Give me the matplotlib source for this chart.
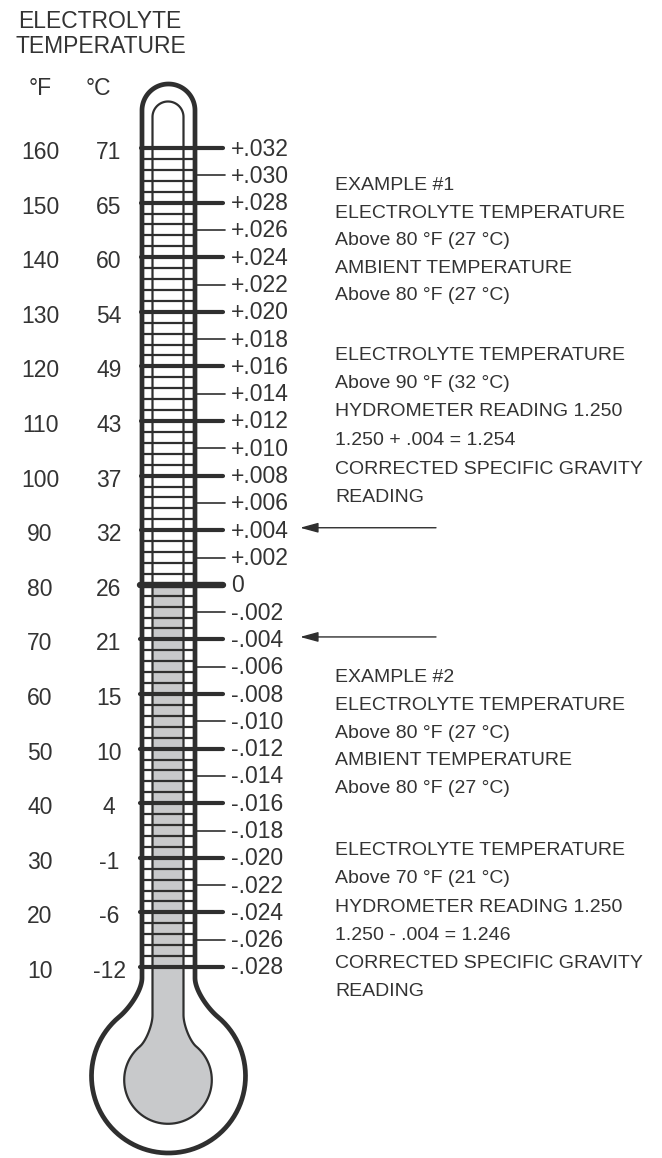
import numpy as np
import matplotlib
matplotlib.use("Agg")
import matplotlib.pyplot as plt
import matplotlib.transforms as mtransforms
from matplotlib import font_manager
from matplotlib.patches import Polygon, Rectangle

# ---- scale data ----
temps_f = [160, 150, 140, 130, 120, 110, 100, 90, 80, 70, 60, 50, 40, 30, 20, 10]
temps_c = [71, 65, 60, 54, 49, 43, 37, 32, 26, 21, 15, 10, 4, -1, -6, -12]
corrections = [0.032, 0.030, 0.028, 0.026, 0.024, 0.022, 0.020, 0.018, 0.016,
               0.014, 0.012, 0.010, 0.008, 0.006, 0.004, 0.002, 0.0,
               -0.002, -0.004, -0.006, -0.008, -0.010, -0.012, -0.014,
               -0.016, -0.018, -0.020, -0.022, -0.024, -0.026, -0.028]
correction_labels = ["+.032", "+.030", "+.028", "+.026", "+.024", "+.022", "+.020",
                     "+.018", "+.016", "+.014", "+.012", "+.010", "+.008", "+.006",
                     "+.004", "+.002", "0", "-.002", "-.004", "-.006", "-.008",
                     "-.010", "-.012", "-.014", "-.016", "-.018", "-.020", "-.022",
                     "-.024", "-.026", "-.028"]
grid_f = list(range(10, 161, 2))   # small graduations every 2 °F
fill_level_f = 80                  # electrolyte column top
arrow_corrections = [0.004, -0.004]

example_1a = ["EXAMPLE #1", "ELECTROLYTE TEMPERATURE", "Above 80 \u00b0F (27 \u00b0C)",
              "AMBIENT TEMPERATURE", "Above 80 \u00b0F (27 \u00b0C)"]
example_1b = ["ELECTROLYTE TEMPERATURE", "Above 90 \u00b0F (32 \u00b0C)",
              "HYDROMETER READING 1.250", "1.250 + .004 = 1.254",
              "CORRECTED SPECIFIC GRAVITY", "READING"]
example_2a = ["EXAMPLE #2", "ELECTROLYTE TEMPERATURE", "Above 80 \u00b0F (27 \u00b0C)",
              "AMBIENT TEMPERATURE", "Above 80 \u00b0F (27 \u00b0C)"]
example_2b = ["ELECTROLYTE TEMPERATURE", "Above 70 \u00b0F (21 \u00b0C)",
              "HYDROMETER READING 1.250", "1.250 - .004 = 1.246",
              "CORRECTED SPECIFIC GRAVITY", "READING"]


def corr_to_f(c):
    # .004 of specific gravity per 10 °F, zero at 80 °F
    return 80 + c / 0.0004


W, H = 662, 1158
INK = "#2f2f2f"
TXT = "#333333"
GRAY = "#c8c9cb"
PX_PER_F = (967 - 148) / 150.0

names = {f.name for f in font_manager.fontManager.ttflist}
if "Liberation Sans Narrow" in names:
    note_font, note_size = "Liberation Sans Narrow", 16.5
else:
    note_font, note_size = "Liberation Sans", 14
plt.rcParams["font.family"] = ["Liberation Sans", "DejaVu Sans"]

fig = plt.figure(figsize=(W / 100, H / 100), dpi=100)
ax = fig.add_axes([0, 0, 1, 1])
ax.set_xlim(0, W)
ax.set_ylim(10 - (H - 967) / PX_PER_F, 160 + 148 / PX_PER_F)
ax.axis("off")

# pixel space (y down) for the glass outline and notes
px = mtransforms.Affine2D().scale(1 / W, -1 / H).translate(0, 1) + fig.transFigure


def arc(cx, cy, r, a0, a1, n=80):
    t = np.radians(np.linspace(a0, a1, n))
    return np.column_stack([cx + r * np.cos(t), cy + r * np.sin(t)])


def bez(p0, p1, p2, p3, n=30):
    t = np.linspace(0, 1, n)[:, None]
    p0, p1, p2, p3 = map(np.asarray, (p0, p1, p2, p3))
    return (1 - t) ** 3 * p0 + 3 * (1 - t) ** 2 * t * p1 + 3 * (1 - t) * t ** 2 * p2 + t ** 3 * p3


def glass(cx, half, top_cy, neck_y, bulb_cy, r, ang, k1, k2):
    xl, xr = cx - half, cx + half
    a = np.radians(ang)
    jr = np.array([cx + r * np.cos(a), bulb_cy - r * np.sin(a)])
    jl = np.array([cx - r * np.cos(a), bulb_cy - r * np.sin(a)])
    tr = np.array([-np.sin(a), -np.cos(a)]) * -1  # travel dir at right junction
    tr = np.array([np.sin(a), np.cos(a)])
    pts = [arc(cx, top_cy, half, 180, 360)]
    pts.append([[xr, neck_y]])
    pts.append(bez((xr, neck_y), (xr, neck_y + k1), jr - k2 * tr, jr))
    pts.append(arc(cx, bulb_cy, r, -ang, 180 + ang))
    tl = np.array([-np.sin(a), np.cos(a)])
    pts.append(bez(jl, jl - k2 * tl, (xl, neck_y + k1), (xl, neck_y)))
    return np.vstack(pts)


outer = glass(168.5, 26.5, 110.5, 978, 1076, 77, 50, 12, 14)
inner = glass(168, 15.5, 117, 1015, 1080, 43.8, 50, 10, 8)

# electrolyte column (clipped below the 80 °F mark)
col = Polygon(inner, closed=True, transform=px, facecolor=GRAY, edgecolor="none", zorder=1)
ax.add_patch(col)
clip = Rectangle((0, ax.get_ylim()[0]), W, fill_level_f - ax.get_ylim()[0],
                 transform=ax.transData, visible=False)
ax.add_patch(clip)
col.set_clip_path(clip)

# 2 °F graduations across the glass
ax.hlines(grid_f, 141.5, 194.5, color=INK, lw=1.6, zorder=2)

ax.add_patch(Polygon(inner, closed=True, transform=px, fill=False, edgecolor=INK, lw=1.6, zorder=3))
ax.add_patch(Polygon(outer, closed=True, transform=px, fill=False, edgecolor=INK, lw=3.4,
                     joinstyle="round", zorder=4))

# correction ticks
lab_off = ax.transData + mtransforms.ScaledTranslation(0, -0.075, fig.dpi_scale_trans)
for c, lab in zip(corrections, correction_labels):
    f = corr_to_f(c)
    step = int(round(abs(c) / 0.002))
    if step == 0:
        ln = ax.hlines(f, 139.5, 223, color=INK, lw=4.6, zorder=5)
    elif step % 2 == 0:
        ln = ax.hlines(f, 141 if c > 0 else 139.5, 223, color=INK, lw=3.0, zorder=5)
    else:
        ln = ax.hlines(f, 194.5, 225, color=INK, lw=1.2, zorder=5)
    ln.set_capstyle("round")
    ax.text(231, f, lab, ha="left", va="baseline", fontsize=16.5, color=TXT,
            transform=lab_off)

# temperature scales
side_off = ax.transData + mtransforms.ScaledTranslation(0, -0.11, fig.dpi_scale_trans)
for tf, tc in zip(temps_f, temps_c):
    ax.text(40, tf, str(tf), ha="center", va="baseline", fontsize=16.5, color=TXT,
            transform=side_off)
    ax.text(109, tf, str(tc), ha="center", va="baseline", fontsize=16.5, color=TXT,
            transform=side_off)

# arrows for the two examples
for c in arrow_corrections:
    f = corr_to_f(c) + 0.45
    ax.annotate("", xy=(300, f), xytext=(436, f),
                arrowprops=dict(arrowstyle="-|>,head_length=1.1,head_width=0.3",
                                mutation_scale=10, lw=1.0, color=INK,
                                shrinkA=0, shrinkB=0))

# headings
ax.text(100, 28, "ELECTROLYTE", transform=px, ha="center", va="baseline", fontsize=16.5, color=TXT)
ax.text(101, 53, "TEMPERATURE", transform=px, ha="center", va="baseline", fontsize=16.5, color=TXT)
ax.text(40, 95, "\u00b0F", transform=px, ha="center", va="baseline", fontsize=16.5, color=TXT)
ax.text(98.5, 95, "\u00b0C", transform=px, ha="center", va="baseline", fontsize=16.5, color=TXT)

# example notes
for lines, y0, dy in [(example_1a, 190, 27.6), (example_1b, 359.5, 28.5),
                      (example_2a, 682, 27.8), (example_2b, 855, 28.3)]:
    for i, s in enumerate(lines):
        ax.text(335, y0 + i * dy, s, transform=px, ha="left", va="baseline",
                fontsize=note_size, color=TXT, family=[note_font, "DejaVu Sans"])

fig.savefig("out.png", dpi=100, facecolor="white")
